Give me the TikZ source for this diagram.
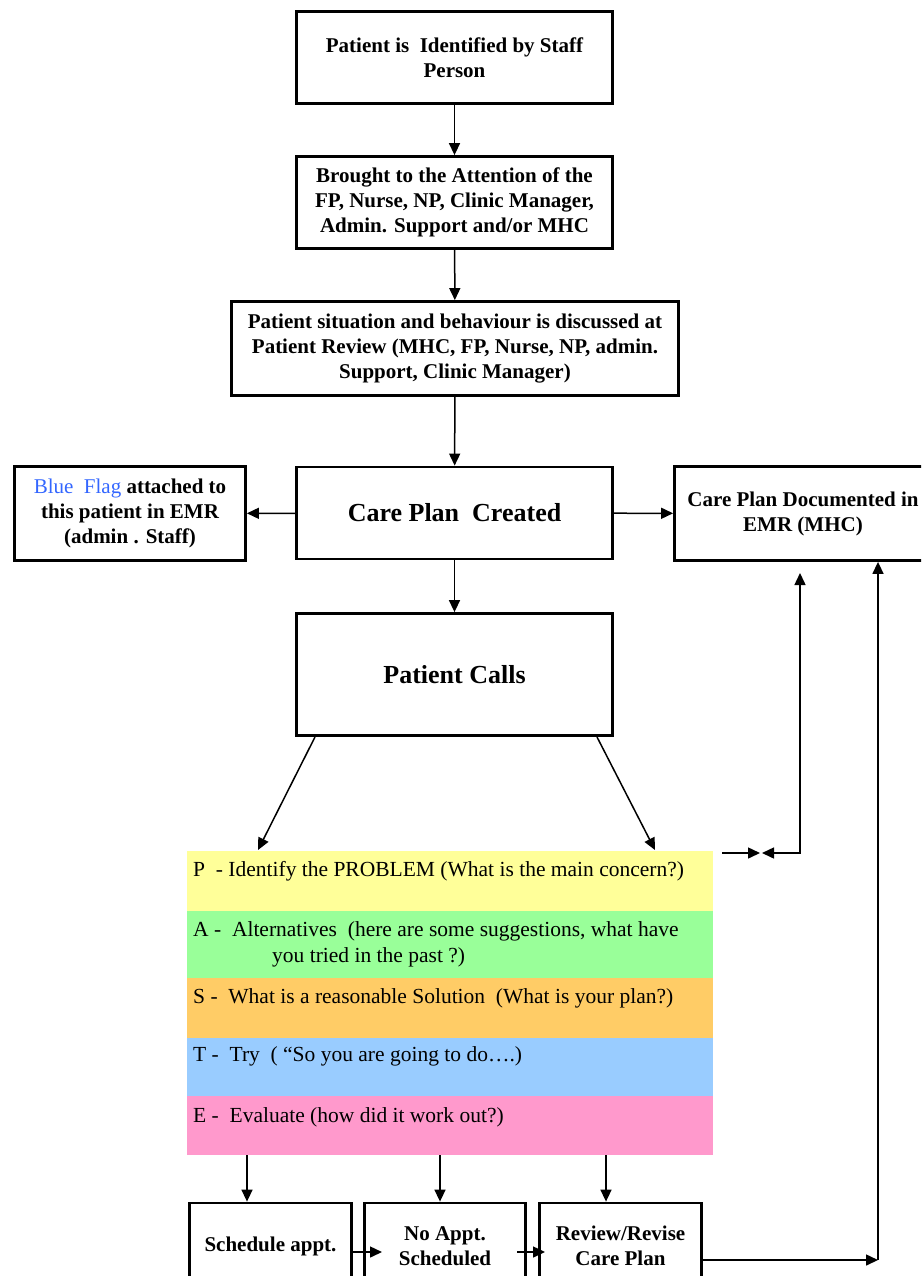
\documentclass[tikz,border=0pt]{standalone}
\usepackage{fontspec}
\setmainfont{Liberation Serif}
\usetikzlibrary{arrows.meta}
\definecolor{pyellow}{HTML}{FFFF99}
\definecolor{pgreen}{HTML}{99FF99}
\definecolor{porange}{HTML}{FFCC66}
\definecolor{pblue}{HTML}{99CCFF}
\definecolor{ppink}{HTML}{FF99CC}
\definecolor{flagblue}{HTML}{3366FF}
\begin{document}
\begin{tikzpicture}[x=1pt,y=-1pt,
  box/.style={draw, line width=2.8pt, align=center, inner sep=2pt,
    font=\fontsize{21}{25}\selectfont\bfseries},
  bigbox/.style={box, font=\fontsize{26}{30}\selectfont\bfseries},
  arr/.style={line width=1.5pt, -{Triangle[length=12pt,width=11pt]}},
  dblarr/.style={line width=1.5pt, {Triangle[length=12pt,width=11pt]}-{Triangle[length=12pt,width=11pt]}},
  band/.style={anchor=north west, inner sep=0pt, minimum width=526pt, draw=none},
  ptext/.style={anchor=base west, inner sep=0pt, font=\fontsize{21.5}{25}\selectfont}
]
\useasboundingbox (0,0) rectangle (921,1276);
\clip (0,0) rectangle (921,1276);

% top chain
\node[box, minimum width=316pt, minimum height=92pt] (n1) at (454.5,57.5)
  {Patient is\ \ Identified by Staff\\Person};
\node[box, minimum width=316pt, minimum height=92pt] (n2) at (454.5,202.5)
  {Brought to the Attention of the\\FP, Nurse, NP, Clinic Manager,\\Admin. Support and/or MHC};
\node[box, minimum width=447pt, minimum height=94pt] (n3) at (455,348.5)
  {Patient situation and behaviour is discussed at\\Patient Review (MHC, FP, Nurse, NP, admin.\\Support, Clinic Manager)};
\node[bigbox, minimum width=316pt, minimum height=92pt] (cpc) at (454.5,513)
  {Care Plan\ \ Created};
\node[box, minimum width=231pt, minimum height=94pt] (flag) at (130,513.5)
  {{\mdseries\color{flagblue}Blue\ \ Flag} attached to\\this patient in EMR\\(admin . Staff)};
\node[box, minimum width=257pt, minimum height=94pt] (cpd) at (803,513.5)
  {Care Plan Documented in\\EMR (MHC)};
\node[bigbox, minimum width=316pt, minimum height=122pt] (pc) at (454.5,674.5)
  {Patient Calls};

\draw[arr] (n1) -- (n2);
\draw[arr] (n2) -- (n3);
\draw[arr] (n3) -- (cpc);
\draw[arr] (cpc) -- (flag);
\draw[arr] (cpc) -- (cpd);
\draw[arr] (cpc) -- (pc);

% PASTE bands
\node[band, fill=pyellow, minimum height=60pt] (P) at (187,851) {};
\node[band, fill=pgreen, minimum height=67pt] (A) at (187,911) {};
\node[band, fill=porange, minimum height=60pt] (S) at (187,978) {};
\node[band, fill=pblue, minimum height=58pt] (T) at (187,1038) {};
\node[band, fill=ppink, minimum height=59pt] (E) at (187,1096) {};

\node[ptext] (Pt) at (193,876) {P\ \ - Identify the PROBLEM (What is the main concern?)};
\node[ptext] (At1) at (193,936) {A -\ \ Alternatives\ \ (here are some suggestions, what have};
\node[ptext] (At2) at (272,962) {you tried in the past ?)};
\node[ptext] (St) at (193,1003) {S -\ \ What is a reasonable Solution\ \ (What is your plan?)};
\node[ptext] (Tt) at (193,1061) {T -\ \ Try\ \ ( “So you are going to do….)};
\node[ptext] (Et) at (193,1122) {E -\ \ Evaluate (how did it work out?)};

% Patient Calls to band
\coordinate (pcl) at (315,737);
\coordinate (pcr) at (597,737);
\coordinate (pl) at (258,850);
\coordinate (pr) at (655,850);
\draw[arr] (pcl) -- (pl);
\draw[arr] (pcr) -- (pr);

% right connectors
\coordinate (r1) at (722,853);
\coordinate (r2) at (760,853);
\coordinate (r3) at (762,853);
\coordinate (up) at (800,573);
\draw[arr] (r1) -- (r2);
\draw[dblarr] (r3) -| (up);

% bottom boxes
\node[box, minimum width=162pt, minimum height=86pt] (sa) at (270.5,1246) {Schedule appt.};
\node[box, minimum width=161pt, minimum height=86pt] (na) at (445,1246) {No Appt.\\Scheduled};
\node[box, minimum width=162pt, minimum height=86pt] (rr) at (620.5,1246) {Review/Revise\\Care Plan};

\coordinate (e1) at (247,1155);
\coordinate (e2) at (440,1155);
\coordinate (e3) at (606,1155);
\draw[arr] (e1) -- (e1 |- sa.north);
\draw[arr] (e2) -- (e2 |- na.north);
\draw[arr] (e3) -- (e3 |- rr.north);

\coordinate (a1) at (382,1252);
\coordinate (b0) at (517,1252);
\coordinate (b1) at (545,1252);
\draw[arr] (sa.east |- a1) -- (a1);
\draw[arr] (b0) -- (b1);

\coordinate (v1) at (878,1260);
\draw[arr] (rr.east |- v1) -- (v1);
\draw[arr] (v1) -- (v1 |- cpd.south);
\end{tikzpicture}
\end{document}
